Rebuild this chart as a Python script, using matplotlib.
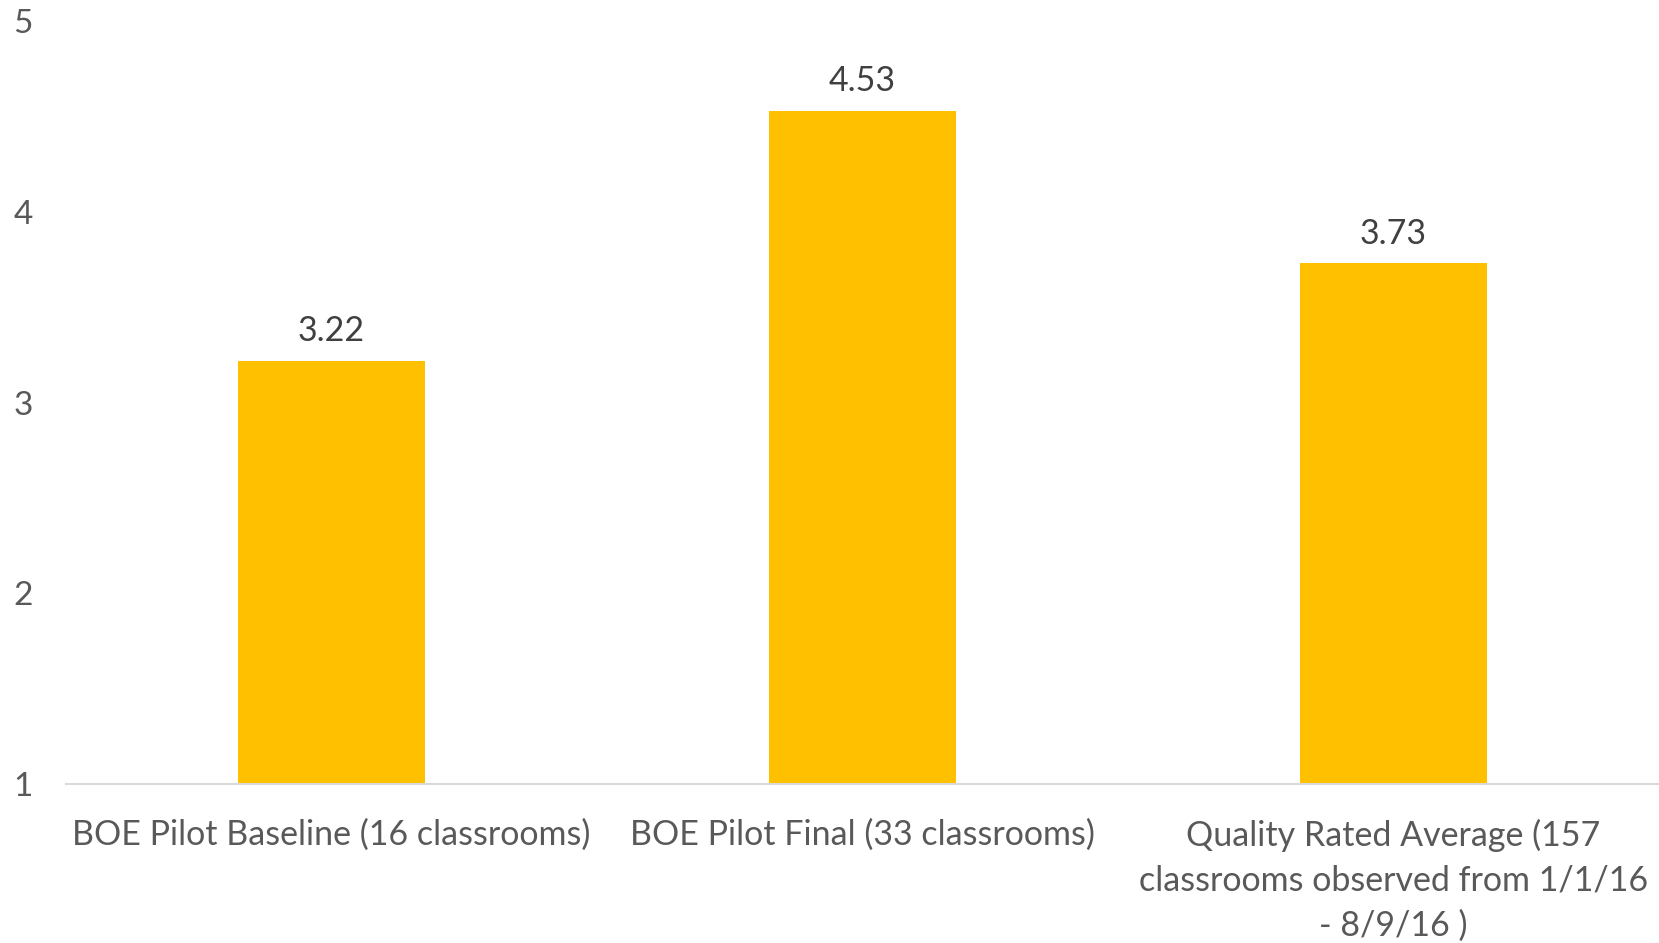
import matplotlib.pyplot as plt
import numpy as np

categories = [
    "BOE Pilot Baseline (16 classrooms)",
    "BOE Pilot Final (33 classrooms)",
    "Quality Rated Average (157\nclassrooms observed from 1/1/16\n- 8/9/16 )",
]
scores = [3.22, 4.53, 3.73]
y_ticks = [1, 2, 3, 4, 5]

plt.rcParams["font.family"] = ["Lato", "DejaVu Sans"]

fig = plt.figure(figsize=(16.59, 9.43), dpi=100)
ax = fig.add_axes([0.0398, 0.1686, 0.9602, 0.8091])

x = np.arange(len(categories))
bars = ax.bar(x, np.array(scores) - 1, bottom=1, width=0.352, color="#FFC000", zorder=2)

# value labels above each bar
for xi, v in zip(x, scores):
    ax.text(xi, v + 0.07, f"{v:.2f}", ha="center", va="bottom",
            fontsize=24.5, color="#404040")

ax.set_xlim(-0.5, len(categories) - 0.5)
ax.set_ylim(1, 5)
ax.set_yticks(y_ticks)
ax.set_xticks(x)
ax.set_xticklabels(categories, fontsize=24.5, color="#595959", linespacing=1.5)
ax.tick_params(axis="y", labelsize=24, labelcolor="#595959", length=0, pad=24)
ax.tick_params(axis="x", length=0, pad=25)

for side in ["top", "right", "left"]:
    ax.spines[side].set_visible(False)
ax.spines["bottom"].set_color("#D9D9D9")
ax.spines["bottom"].set_linewidth(1.5)

fig.savefig("out.png", dpi=100)
